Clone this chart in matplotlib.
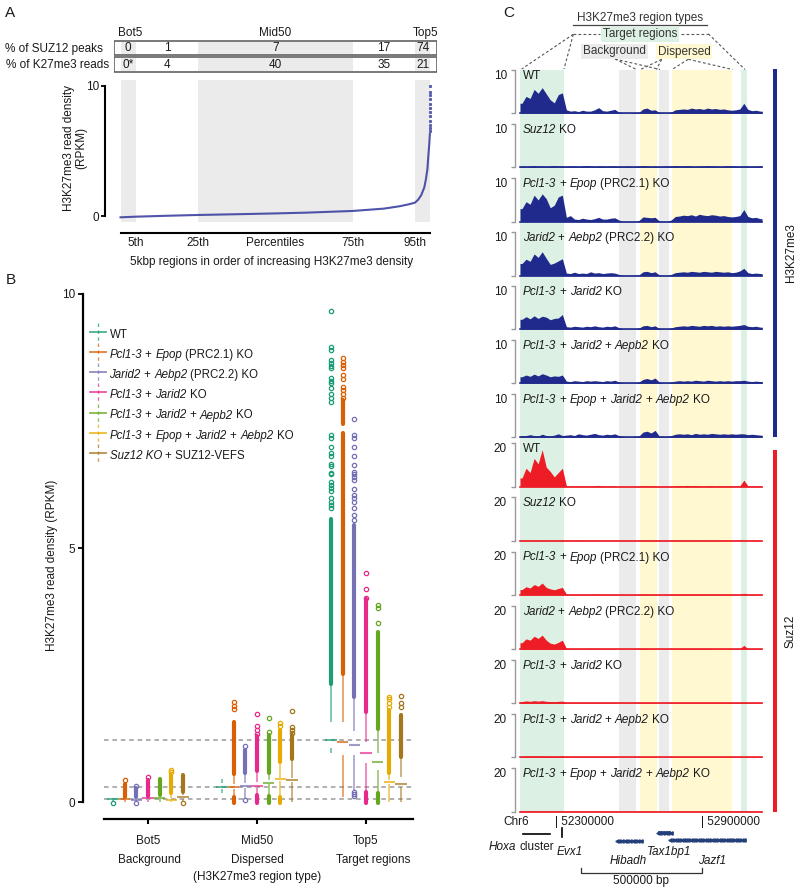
import numpy as np
import matplotlib
matplotlib.use("Agg")
import matplotlib.pyplot as plt
from matplotlib.patches import Rectangle

plt.rcParams['font.family'] = ['Liberation Sans', 'DejaVu Sans']

# ---------------- panel A data ----------------
table_cols = [2.5, 15, 50, 85, 97.5]
suz12_peaks = ['0', '1', '7', '17', '74']
k27_reads = ['0*', '4', '40', '35', '21']
pct_bands = [(0, 5), (25, 75), (95, 100)]
curve_pct = [0, 5, 15, 25, 40, 50, 60, 75, 85, 90, 93, 95, 96, 97, 98, 98.5, 99, 99.3, 99.6, 99.8]
curve_val = [-0.1, -0.05, 0.02, 0.08, 0.15, 0.2, 0.26, 0.39, 0.57, 0.75, 0.9, 1.03, 1.25, 1.6,
             2.2, 2.8, 3.6, 4.6, 5.5, 6.3]
top_pct = [99.85, 99.87, 99.89, 99.9, 99.92, 99.94, 99.95, 99.96, 99.97, 99.98, 99.99, 100]
top_val = [6.5, 6.8, 7.0, 7.3, 7.7, 8.0, 8.3, 8.6, 9.0, 9.3, 9.5, 10.0]

# ---------------- panel B data ----------------
groups = ['Bot5', 'Mid50', 'Top5']
group_types = ['Background', 'Dispersed', 'Target regions']
geno_colors = ['#1b9e77', '#d95f02', '#7570b3', '#e7298a', '#66a61e', '#e6ab02', '#a6761d']
whislo = [[0.02, 0.00, 0.01, 0.00, 0.00, 0.00, 0.02],
          [0.17, 0.10, 0.07, 0.14, 0.12, 0.10, 0.00],
          [0.96, 0.10, 0.24, 0.20, 0.17, 0.00, 0.00]]
q1 = [[0.03, 0.03, 0.03, 0.04, 0.05, 0.02, 0.06],
      [0.25, 0.26, 0.28, 0.27, 0.35, 0.42, 0.40],
      [1.06, 0.93, 0.93, 0.77, 0.63, 0.35, 0.30]]
med = [[0.05, 0.05, 0.04, 0.07, 0.07, 0.04, 0.09],
       [0.30, 0.30, 0.31, 0.32, 0.38, 0.45, 0.43],
       [1.22, 1.18, 1.12, 0.96, 0.79, 0.39, 0.35]]
q3 = [[0.06, 0.07, 0.06, 0.09, 0.10, 0.08, 0.13],
      [0.37, 0.36, 0.38, 0.40, 0.43, 0.48, 0.47],
      [1.57, 1.57, 1.40, 1.18, 0.96, 0.43, 0.50]]
whishi = [[0.07, 0.10, 0.09, 0.12, 0.14, 0.17, 0.20],
          [0.45, 0.56, 0.58, 0.61, 0.58, 0.79, 0.84],
          [2.32, 2.52, 2.07, 1.77, 1.44, 0.58, 0.89]]
# ranges where outlier circles overlap into a solid bar
dense_out = [
    [[], [(0.10, 0.35)], [(0.09, 0.27)], [(0.12, 0.43)], [(0.14, 0.45)], [(0.17, 0.53)], [(0.20, 0.53)]],
    [[], [(0.56, 1.58), (-0.02, 0.10)], [(0.58, 1.02)], [(0.61, 1.29), (-0.02, 0.14)],
     [(0.58, 1.31), (-0.02, 0.12)], [(0.79, 1.42), (-0.02, 0.10)], [(0.84, 1.31)]],
    [[(2.32, 5.58)], [(2.52, 7.26), (7.44, 7.91)], [(2.07, 5.45)], [(1.77, 4.00), (-0.02, 0.20)],
     [(1.44, 3.35), (-0.02, 0.17)], [(0.58, 1.81)], [(0.89, 1.72)]]]
sparse_out = [
    [[-0.01], [0.43], [0.31, -0.01], [0.49], [], [0.64, 0.60], [-0.01]],
    [[], [1.97, 1.89, 1.84], [1.11, 0.03], [1.73, 1.50, 1.42, 1.33], [1.66, 1.37], [1.55, 1.50],
     [1.79, 1.48, 1.42, 1.36]],
    [[9.67, 8.96, 8.90, 8.70, 8.65, 8.58, 8.54, 8.34, 8.29, 8.25, 8.14, 8.04, 7.95, 7.87, 7.22, 7.17,
      6.99, 6.88, 6.82, 6.65, 6.61, 6.48, 6.45, 6.29, 6.24, 6.19, 6.13, 5.98, 5.91, 5.85, 5.78],
     [8.75, 8.67, 8.61, 8.54, 8.41, 8.32, 8.16, 8.11, 8.04, 7.96],
     [7.53, 7.22, 7.17, 6.99, 6.82, 6.63, 6.50, 6.45, 6.40, 6.34, 6.16, 6.04, 5.98, 5.91, 5.78,
      5.65, 5.55, 0.20, 0.16, 0.11],
     [4.51, 4.19, 4.02],
     [3.88, 3.81, 3.52],
     [2.07, 2.02, 1.95, 1.88],
     [2.09, 1.95, 1.88]]]

I = True
R = False
geno_labels = [
    [("WT", R)],
    [("Pcl1-3", I), (" + ", R), ("Epop", I), (" (PRC2.1) KO", R)],
    [("Jarid2", I), (" + ", R), ("Aebp2", I), (" (PRC2.2) KO", R)],
    [("Pcl1-3", I), (" + ", R), ("Jarid2", I), (" KO", R)],
    [("Pcl1-3", I), (" + ", R), ("Jarid2", I), (" + ", R), ("Aepb2", I), (" KO", R)],
    [("Pcl1-3", I), (" + ", R), ("Epop", I), (" + ", R), ("Jarid2", I), (" + ", R), ("Aebp2", I), (" KO", R)],
    [("Suz12 KO", I), (" + SUZ12-VEFS", R)],
]

# ---------------- panel C data ----------------
reg_start, reg_end = 52149000, 53146000
band_target = [(52149000, 52330100), (53059500, 53083000)]
band_background = [(52558000, 52626800), (52721600, 52761500)]
band_dispersed = [(52642000, 52712100), (52775100, 53023600)]

h3_wt = [2.3, 3.9, 3.4, 5.5, 4.6, 5.9, 4.5, 3.1, 2.4, 4.3,
         4.7, 0.8, 0.5, 0.6, 0.4, 0.7, 0.5, 0.5, 0.8, 1.3,
         0.6, 0.5, 0.7, 0.9, 0.3, 0.1, 0.1, 0.1, 0.2, 0.2,
         1.0, 1.2, 0.7, 0.8, 0.2, 0.1, 0.1, 0.3, 0.8, 0.9,
         1.0, 0.9, 1.2, 1.0, 1.1, 0.9, 1.2, 1.0, 1.1, 0.9,
         1.0, 0.8, 0.7, 0.8, 1.0, 2.3, 0.9, 0.6, 0.7, 0.5]
h3_suz = [0.3, 0.2, 0.3, 0.4, 0.3, 0.3, 0.2, 0.3, 0.4, 0.3,
          0.3, 0.2, 0.3, 0.3, 0.2, 0.3, 0.4, 0.3, 0.2, 0.3,
          0.3, 0.2, 0.3, 0.3, 0.2, 0.2, 0.3, 0.2, 0.2, 0.3,
          0.4, 0.3, 0.2, 0.3, 0.2, 0.2, 0.3, 0.3, 0.4, 0.3,
          0.3, 0.4, 0.3, 0.2, 0.3, 0.3, 0.4, 0.3, 0.3, 0.2,
          0.3, 0.4, 0.3, 0.3, 0.2, 0.3, 0.3, 0.2, 0.3, 0.3]
h3_pe = [3.0, 4.6, 4.0, 6.1, 5.0, 6.4, 5.3, 3.2, 3.8, 5.7,
         6.1, 1.0, 1.4, 0.6, 0.5, 0.8, 0.6, 0.5, 0.7, 1.0,
         0.6, 0.6, 0.8, 0.9, 0.4, 0.1, 0.1, 0.1, 0.1, 0.3,
         1.1, 1.0, 0.9, 1.0, 0.2, 0.1, 0.1, 0.4, 1.2, 1.3,
         1.5, 1.4, 1.6, 1.3, 1.7, 1.5, 1.4, 1.6, 1.5, 1.3,
         1.4, 1.2, 1.1, 1.2, 1.4, 2.8, 1.2, 0.9, 1.0, 0.7]
h3_ja = [2.8, 3.8, 3.3, 5.0, 4.2, 5.5, 4.0, 2.6, 2.9, 3.4,
         3.9, 0.6, 0.5, 0.8, 0.5, 0.6, 0.5, 0.9, 0.6, 0.7,
         0.5, 0.6, 0.7, 0.6, 0.3, 0.1, 0.1, 0.1, 0.1, 0.2,
         0.9, 1.0, 0.7, 0.9, 0.2, 0.1, 0.1, 0.3, 0.7, 0.8,
         0.9, 0.8, 1.0, 0.9, 0.8, 1.0, 0.9, 0.8, 1.0, 0.9,
         0.8, 0.9, 0.7, 0.8, 1.1, 1.7, 0.7, 0.5, 0.6, 0.5]
h3_pj = [2.3, 2.9, 2.4, 3.1, 2.5, 3.0, 2.8, 2.2, 2.5, 2.6,
         3.4, 0.6, 0.5, 0.7, 0.6, 0.5, 0.7, 0.6, 0.8, 0.6,
         0.5, 0.7, 0.6, 0.8, 0.4, 0.1, 0.1, 0.1, 0.1, 0.3,
         0.8, 0.9, 0.6, 0.8, 0.2, 0.1, 0.1, 0.3, 0.6, 0.7,
         0.8, 0.7, 0.9, 0.8, 0.7, 0.9, 0.8, 0.9, 0.7, 0.8,
         0.7, 0.8, 0.7, 0.8, 0.9, 1.1, 0.7, 0.6, 0.7, 0.5]
h3_pja = [1.5, 1.9, 1.6, 2.1, 1.7, 2.2, 1.9, 1.5, 1.7, 1.6,
          1.9, 0.5, 0.4, 0.6, 0.5, 0.4, 0.6, 0.5, 0.6, 0.5,
          0.4, 0.6, 0.5, 0.7, 0.3, 0.1, 0.1, 0.1, 0.1, 0.3,
          0.9, 1.1, 0.8, 1.2, 0.3, 0.1, 0.1, 0.3, 0.5, 0.6,
          0.5, 0.6, 0.5, 0.7, 0.6, 0.5, 0.7, 0.6, 0.5, 0.6,
          0.5, 0.6, 0.5, 0.6, 0.6, 0.7, 0.5, 0.4, 0.5, 0.4]
h3_peja = [0.3, 0.4, 0.6, 0.4, 0.3, 0.7, 0.4, 0.3, 0.5, 0.8,
           0.4, 0.5, 0.6, 0.4, 0.8, 0.6, 0.5, 0.7, 0.9, 0.6,
           0.5, 0.7, 0.6, 0.8, 0.4, 0.2, 0.1, 0.1, 0.2, 0.3,
           1.2, 1.4, 1.0, 1.6, 0.3, 0.2, 0.2, 0.4, 0.7, 0.8,
           0.7, 0.8, 0.6, 0.9, 0.7, 0.8, 0.7, 0.9, 0.8, 0.7,
           0.8, 0.7, 0.8, 0.7, 0.8, 0.8, 0.6, 0.7, 0.6, 0.5]
sz_wt = [4.0, 8.5, 6.5, 13.0, 10.5, 17.0, 9.0, 7.0, 4.5, 6.5,
         8.5, 0.4, 0.3, 0.3, 0.3, 0.4, 0.3, 0.3, 0.4, 0.6,
         0.3, 0.3, 0.4, 0.3, 0.2, 0.2, 0.2, 0.2, 0.2, 0.3,
         0.5, 0.4, 0.3, 0.4, 0.2, 0.2, 0.2, 0.3, 0.4, 0.5,
         0.4, 0.6, 0.4, 0.5, 0.4, 0.3, 0.4, 0.5, 0.3, 0.4,
         0.3, 0.4, 0.3, 0.3, 0.4, 3.0, 0.4, 0.3, 0.4, 0.3]
sz_suz = [0.2, 0.3, 0.2, 0.2, 0.3, 0.2, 0.2, 0.3, 0.2, 0.2,
          0.3, 0.2, 0.2, 0.2, 0.3, 0.2, 0.2, 0.3, 0.2, 0.2,
          0.2, 0.3, 0.2, 0.2, 0.2, 0.2, 0.2, 0.2, 0.2, 0.2,
          0.3, 0.2, 0.2, 0.3, 0.2, 0.2, 0.2, 0.2, 0.3, 0.2,
          0.2, 0.3, 0.2, 0.2, 0.3, 0.2, 0.2, 0.3, 0.2, 0.2,
          0.3, 0.2, 0.2, 0.2, 0.3, 0.3, 0.2, 0.2, 0.3, 0.2]
sz_pe = [2.5, 3.8, 3.2, 4.8, 4.0, 5.5, 3.5, 2.8, 2.4, 3.0,
         3.5, 0.4, 0.3, 0.3, 0.3, 0.3, 0.3, 0.3, 0.4, 0.4,
         0.3, 0.3, 0.3, 0.3, 0.2, 0.2, 0.2, 0.2, 0.2, 0.3,
         0.4, 0.3, 0.3, 0.3, 0.2, 0.2, 0.2, 0.3, 0.3, 0.4,
         0.3, 0.4, 0.3, 0.4, 0.3, 0.3, 0.3, 0.4, 0.3, 0.3,
         0.3, 0.3, 0.3, 0.3, 0.3, 0.8, 0.3, 0.3, 0.3, 0.3]
sz_ja = [3.0, 4.8, 4.2, 6.0, 5.0, 6.5, 4.2, 2.8, 2.4, 3.2,
         4.2, 0.4, 0.3, 0.3, 0.3, 0.3, 0.3, 0.4, 0.3, 0.4,
         0.3, 0.3, 0.3, 0.3, 0.2, 0.2, 0.2, 0.2, 0.2, 0.3,
         0.4, 0.3, 0.3, 0.3, 0.2, 0.2, 0.2, 0.3, 0.3, 0.3,
         0.4, 0.3, 0.3, 0.4, 0.3, 0.3, 0.4, 0.3, 0.3, 0.3,
         0.3, 0.3, 0.3, 0.3, 0.3, 1.8, 0.3, 0.3, 0.3, 0.3]
sz_pj = [0.8, 1.1, 0.9, 1.2, 1.0, 1.2, 0.9, 0.8, 0.7, 0.9,
         1.0, 0.3, 0.3, 0.3, 0.3, 0.3, 0.3, 0.3, 0.3, 0.3,
         0.3, 0.3, 0.3, 0.3, 0.2, 0.2, 0.2, 0.2, 0.2, 0.3,
         0.3, 0.3, 0.3, 0.3, 0.2, 0.2, 0.2, 0.3, 0.3, 0.3,
         0.3, 0.3, 0.3, 0.3, 0.3, 0.3, 0.3, 0.3, 0.3, 0.3,
         0.3, 0.3, 0.3, 0.3, 0.3, 0.4, 0.3, 0.3, 0.3, 0.3]
sz_pja = [0.4, 0.5, 0.6, 0.5, 0.6, 0.5, 0.5, 0.4, 0.4, 0.5,
          0.6, 0.3, 0.3, 0.3, 0.3, 0.3, 0.3, 0.3, 0.3, 0.3,
          0.3, 0.3, 0.3, 0.3, 0.2, 0.2, 0.2, 0.2, 0.2, 0.3,
          0.3, 0.3, 0.3, 0.3, 0.2, 0.2, 0.2, 0.3, 0.3, 0.3,
          0.3, 0.3, 0.3, 0.3, 0.3, 0.3, 0.3, 0.3, 0.3, 0.3,
          0.3, 0.3, 0.3, 0.3, 0.3, 0.3, 0.3, 0.3, 0.3, 0.3]
sz_peja = [0.3, 0.3, 0.4, 0.3, 0.3, 0.3, 0.3, 0.4, 0.3, 0.3,
           0.3, 0.3, 0.3, 0.3, 0.3, 0.3, 0.3, 0.3, 0.3, 0.3,
           0.3, 0.3, 0.3, 0.3, 0.2, 0.2, 0.2, 0.2, 0.2, 0.3,
           0.3, 0.3, 0.3, 0.3, 0.2, 0.2, 0.2, 0.3, 0.3, 0.3,
           0.3, 0.3, 0.3, 0.3, 0.3, 0.3, 0.3, 0.3, 0.3, 0.3,
           0.3, 0.3, 0.3, 0.3, 0.3, 0.3, 0.3, 0.3, 0.3, 0.3]

track_labels = [[("WT", R)], [("Suz12", I), (" KO", R)]] + geno_labels[1:6]
h3_tracks = [h3_wt, h3_suz, h3_pe, h3_ja, h3_pj, h3_pja, h3_peja]
sz_tracks = [sz_wt, sz_suz, sz_pe, sz_ja, sz_pj, sz_pja, sz_peja]
h3_base = [113.3, 167.3, 221.7, 275.7, 329.3, 383.3, 437.3]
sz_base = [486.7, 540.7, 595.0, 649.3, 703.3, 757.3, 811.7]

hoxa = (52161500, 52272400)
evx1 = 52320600
genes = [("Hibadh", 52547300, 52646200, 841), ("Tax1bp1", 52716200, 52771000, 833),
         ("Jazf1", 52766900, 53071900, 840)]
scale_bar = (52400000, 52900000)

BLUE = '#1f2a8c'
RED = '#ee1c25'
TXT = '#1a1a1a'
FS = 8.5

W, H = 800, 892
fig = plt.figure(figsize=(8, 8.92), dpi=100)


def px_axes(x0, y0, x1, y1):
    return fig.add_axes([x0 / W, 1 - y1 / H, (x1 - x0) / W, (y1 - y0) / H])


def pt(px):
    return px * 0.72


ov = px_axes(0, 0, 800, 892)
ov.set_xlim(0, 800)
ov.set_ylim(892, 0)
ov.axis('off')
ov.set_zorder(10)
renderer = fig.canvas.get_renderer()


def seg_width(s, size, style):
    if not s:
        return 0
    a = ov.text(0, 0, '|' + s + '|', fontsize=size, style=style)
    b = ov.text(0, 0, '||', fontsize=size, style=style)
    w = a.get_window_extent(renderer).width - b.get_window_extent(renderer).width
    a.remove()
    b.remove()
    return w


def rich(x, y, parts, size=FS, ha='left', color=TXT):
    styles = ['italic' if it else 'normal' for _, it in parts]
    widths = [seg_width(s, size, st) for (s, _), st in zip(parts, styles)]
    if ha == 'center':
        x -= sum(widths) / 2
    for (s, _), st, w in zip(parts, styles, widths):
        core = s.lstrip(' ')
        lead = seg_width(s[:len(s) - len(core)], size, st)
        ov.text(x + lead, y, core, fontsize=size, style=st, va='baseline', color=color)
        x += w


# ================= Panel A =================
ov.text(5, 17, 'A', fontsize=11, va='baseline', color=TXT)

ta = px_axes(114, 40, 437, 74)
ta.set_xlim(-2.1, 102.1)
ta.set_ylim(34, 0)
ta.axis('off')
for y0 in (0.7, 17.3):
    for lo, hi in pct_bands:
        ta.add_patch(Rectangle((lo, y0 + 0.8), hi - lo, 13.0, color='#ebebeb', lw=0))
    ta.add_patch(Rectangle((-2.1, y0), 104.2, 14.4, fill=False, ec='#555555', lw=1.1))
for xc, a, b in zip(table_cols, suz12_peaks, k27_reads):
    ta.text(xc, 7.9, a, ha='center', va='center', fontsize=FS, color=TXT)
    ta.text(xc, 24.5, b, ha='center', va='center', fontsize=FS, color=TXT)
ta.text(3.1, -4, 'Bot5', ha='center', va='baseline', fontsize=FS, color=TXT)
ta.text(50, -4, 'Mid50', ha='center', va='baseline', fontsize=FS, color=TXT)
ta.text(98.3, -4, 'Top5', ha='center', va='baseline', fontsize=FS, color=TXT)
ov.text(102.7, 51.7, '% of SUZ12 peaks', ha='right', va='baseline', fontsize=FS, color=TXT)
ov.text(109.3, 68.3, '% of K27me3 reads', ha='right', va='baseline', fontsize=FS, color=TXT)

pa = px_axes(114, 80, 437, 222)
pa.set_xlim(-2.1, 102.1)
pa.set_ylim(-0.46, 10.46)
pa.patch.set_alpha(0)
for lo, hi in pct_bands:
    pa.axvspan(lo, hi, color='#ebebeb', lw=0, zorder=0)
pa.plot(curve_pct, curve_val, color='#3c42a0', lw=1.5, alpha=0.9)
pa.plot(top_pct, top_val, ls='none', marker='s', ms=1.2, color='#5a5fb0')
for s in ('top', 'right'):
    pa.spines[s].set_visible(False)
pa.spines['left'].set_position(('outward', pt(9)))
pa.spines['left'].set_bounds(0, 10)
pa.spines['bottom'].set_position(('outward', pt(11)))
pa.spines['bottom'].set_bounds(0, 100)
for s in ('left', 'bottom'):
    pa.spines[s].set_linewidth(1.5)
pa.set_yticks([0, 10], ['0', '10'])
pa.set_xticks([5, 25, 50, 75, 95], ['5th', '25th', 'Percentiles', '75th', '95th'])
pa.tick_params(axis='y', length=pt(4), width=1.3, pad=1, labelsize=FS, labelcolor=TXT)
pa.tick_params(axis='x', length=0, pad=3, labelsize=FS, labelcolor=TXT)
ov.text(75, 148, 'H3K27me3 read density\n(RPKM)', rotation=90, ha='center', va='center',
        multialignment='center', fontsize=FS, color=TXT, linespacing=1.1)
ov.text(271.7, 265, '5kbp regions in order of increasing H3K27me3 density', ha='center',
        va='baseline', fontsize=FS, color=TXT)

# ================= Panel B =================
ov.text(6, 284, 'B', fontsize=11, va='baseline', color=TXT)
pb = px_axes(104, 294, 413, 810)
pb.set_xlim(-0.404, 2.431)
pb.set_ylim(-0.157, 10)
pb.patch.set_alpha(0)
for g in range(3):
    pb.axhline(med[g][0], color='#9a9a9a', ls=(0, (3, 2.5)), lw=1.1, zorder=0)
step = 0.107
for g in range(3):
    for k in range(7):
        x = g + (k - 3) * step
        c = geno_colors[k]
        pb.plot([x, x], [whislo[g][k], q1[g][k]], color=c, alpha=0.7, lw=1.1, solid_capstyle='butt')
        pb.plot([x, x], [q3[g][k], whishi[g][k]], color=c, alpha=0.7, lw=1.1, solid_capstyle='butt')
        pb.plot([x - 0.052, x + 0.052], [med[g][k], med[g][k]], color=c, alpha=0.7, lw=1.5,
                solid_capstyle='butt')
        for lo, hi in dense_out[g][k]:
            pb.plot([x, x], [lo, hi], color=c, lw=3.0, solid_capstyle='round')
        sp = sparse_out[g][k]
        if sp:
            pb.plot([x] * len(sp), sp, ls='none', marker='o', ms=3.1, mfc='none', mec=c, mew=0.9)
for s in ('top', 'right'):
    pb.spines[s].set_visible(False)
pb.spines['left'].set_position(('outward', pt(21)))
pb.spines['left'].set_bounds(0, 10)
pb.spines['bottom'].set_position(('outward', pt(9)))
for s in ('left', 'bottom'):
    pb.spines[s].set_linewidth(1.6)
pb.set_yticks([0, 5, 10], ['0', '5', '10'])
pb.set_xticks([0, 1, 2], groups)
pb.tick_params(axis='y', length=pt(5), width=1.3, pad=2, labelsize=FS, labelcolor=TXT)
pb.tick_params(axis='x', length=pt(5), width=1.5, pad=8, labelsize=FS, labelcolor=TXT)
ov.text(52, 565, 'H3K27me3 read density (RPKM)', rotation=90, ha='center', va='center',
        fontsize=FS, color=TXT)
for xc, t in zip([149, 257.5, 373], group_types):
    ov.text(xc, 863, t, ha='center', va='baseline', fontsize=FS, color=TXT)
ov.text(257, 880, '(H3K27me3 region type)', ha='center', va='baseline', fontsize=FS, color=TXT)

for i, parts in enumerate(geno_labels):
    yb = 337.7 + 20.2 * i
    c = geno_colors[i]
    ov.plot([90, 106], [yb - 6, yb - 6], color=c, lw=1.3, alpha=0.8)
    ov.plot([98, 98], [yb - 15, yb + 4], color=c, lw=1.0, alpha=0.7, ls=(0, (2.5, 2.5)))
    rich(109.5, yb, parts, size=8.3)

# ================= Panel C =================
ov.text(503, 17, 'C', fontsize=11, va='baseline', color=TXT)
bg = px_axes(520, 70, 762, 812)
bg.set_xlim(reg_start, reg_end)
bg.axis('off')
for lo, hi in band_target:
    bg.axvspan(lo, hi, color='#dcf0e4', lw=0)
for lo, hi in band_background:
    bg.axvspan(lo, hi, color='#ebebeb', lw=0)
for lo, hi in band_dispersed:
    bg.axvspan(lo, hi, color='#fff8d0', lw=0)


def draw_track(vals, base, scale, color, label):
    ax = px_axes(520, base - 43.5, 762, base)
    ax.patch.set_alpha(0)
    n = len(vals)
    edges = np.linspace(reg_start, reg_end, n + 1)
    centers = (edges[:-1] + edges[1:]) / 2
    xs = np.concatenate([[reg_start], centers, [reg_end]])
    ys = np.concatenate([[vals[0]], vals, [vals[-1]]])
    ax.fill_between(xs, ys, 0, color=color, lw=0)
    ax.plot([reg_start, reg_end], [0, 0], color=color, lw=1.2, clip_on=False)
    ax.set_xlim(reg_start, reg_end)
    ax.set_ylim(0, scale)
    for s in ('top', 'right', 'bottom'):
        ax.spines[s].set_visible(False)
    ax.spines['left'].set_position(('outward', pt(5)))
    ax.spines['left'].set_color('#9a9a9a')
    ax.spines['left'].set_linewidth(1.0)
    ax.set_xticks([])
    ax.set_yticks([0, scale], ['', str(scale)])
    ax.tick_params(axis='y', length=pt(4), width=1.0, color='#9a9a9a', pad=3,
                   labelsize=FS, labelcolor=TXT)
    ax.yaxis.get_majorticklabels()[1].set_verticalalignment('top')
    rich(523, base - 34.5, label, size=FS)


for vals, base, lab in zip(h3_tracks, h3_base, track_labels):
    draw_track(vals, base, 10, BLUE, lab)
for vals, base, lab in zip(sz_tracks, sz_base, track_labels):
    draw_track(vals, base, 20, RED, lab)

ov.add_patch(Rectangle((773, 69), 4, 368, color=BLUE, lw=0))
ov.add_patch(Rectangle((773, 450), 4, 362, color=RED, lw=0))
ov.text(791, 253, 'H3K27me3', rotation=90, ha='center', va='center', fontsize=FS, color=TXT)
ov.text(791, 631, 'Suz12', rotation=90, ha='center', va='center', fontsize=FS, color=TXT)

# region-type key above the tracks
ov.text(640.5, 21, 'H3K27me3 region types', ha='center', va='baseline', fontsize=FS, color='#333333')
ov.plot([573, 707], [24.5, 24.5], color='#444444', lw=0.9)
ov.text(640, 34.3, 'Target regions', ha='center', va='center', fontsize=FS, color='#333333',
        bbox=dict(boxstyle='square,pad=0.15', fc='#dcf0e4', ec='none'))
ov.text(614.3, 51.3, 'Background', ha='center', va='center', fontsize=FS, color='#333333',
        bbox=dict(boxstyle='square,pad=0.15', fc='#ebebeb', ec='none'))
ov.text(684.2, 51.7, 'Dispersed', ha='center', va='center', fontsize=FS, color='#333333',
        bbox=dict(boxstyle='square,pad=0.15', fc='#fff8d0', ec='none'))
dash = dict(color='#555555', lw=0.8, ls=(0, (2.5, 2)))
ov.plot([573.3, 600], [34.3, 34.3], **dash)
ov.plot([573.3, 521.7], [34.3, 69], **dash)
ov.plot([573.3, 564], [34.3, 69], **dash)
ov.plot([681, 708.3], [33.8, 33.8], **dash)
ov.plot([708.3, 745], [33.8, 69.5], **dash)
ov.plot([615, 636.5], [59, 69.5], **dash)
ov.plot([615, 660], [59, 69.5], **dash)
ov.plot([661.7, 640.5], [59.3, 69.5], **dash)
ov.plot([661.7, 656.5], [59.3, 69.5], **dash)
ov.plot([688.3, 672], [59.3, 69.5], **dash)
ov.plot([688.3, 732.5], [59.3, 69.5], **dash)

# genome annotation
pg = px_axes(520, 815, 762, 892)
pg.set_xlim(reg_start, reg_end)
pg.set_ylim(892, 815)
pg.axis('off')
pg.plot(hoxa, [834, 834], color='black', lw=1.2)
pg.plot([evx1, evx1], [828, 837], color='black', lw=1.2)
GENE = '#23407a'
for name, g0, g1, gy in genes:
    lw = 2.6 if name == 'Tax1bp1' else 1.2
    pg.plot([g0, g1], [gy, gy], color=GENE, lw=lw, solid_capstyle='butt')
    nmk = max(2, int((g1 - g0) / 9000))
    pg.plot(np.linspace(g0, g1, nmk), [gy] * nmk, ls='none', marker='<', ms=2.4, color=GENE)
pg.plot([scale_bar[0], scale_bar[0], scale_bar[1], scale_bar[1]], [868, 872.7, 872.7, 868],
        color='#333333', lw=0.9)

ov.text(516, 825, 'Chr6', ha='center', va='baseline', fontsize=FS, color=TXT)
ov.text(555, 825, '| 52300000', ha='left', va='baseline', fontsize=FS, color=TXT)
ov.text(701, 825, '| 52900000', ha='left', va='baseline', fontsize=FS, color=TXT)
rich(521, 850, [("Hoxa", I), (" cluster", R)], ha='center')
rich(570, 855, [("Evx1", I)], ha='center')
rich(628, 864, [("Hibadh", I)], ha='center')
rich(669, 855, [("Tax1bp1", I)], ha='center')
rich(712, 864, [("Jazf1", I)], ha='center')
ov.text(641, 884, '500000 bp', ha='center', va='baseline', fontsize=FS, color=TXT)

fig.savefig('out.png', dpi=100)
